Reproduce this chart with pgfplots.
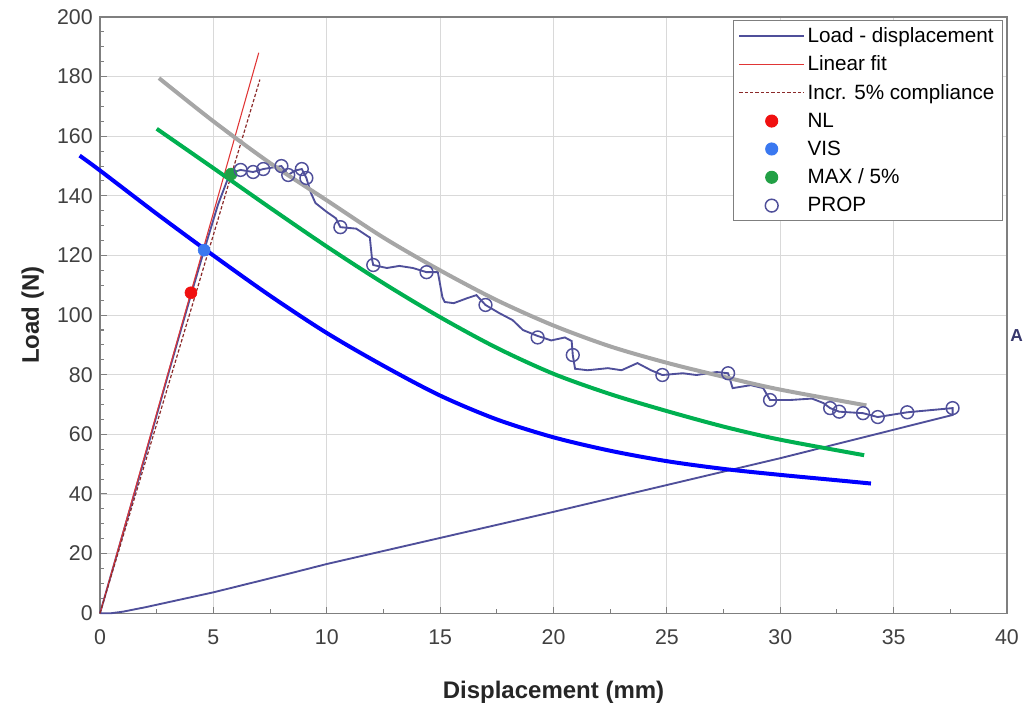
\documentclass[border=0pt]{standalone}
\usepackage{fontspec}
\setmainfont{Liberation Sans}
\usepackage{pgfplots}
\pgfplotsset{compat=1.18}

\definecolor{ldcol}{HTML}{4F4F9A}
\definecolor{fitred}{HTML}{E03535}
\definecolor{cmpred}{HTML}{8B2A2A}
\definecolor{nlred}{HTML}{F01010}
\definecolor{visblue}{HTML}{3A78F0}
\definecolor{maxgreen}{HTML}{22A045}
\definecolor{curveblue}{HTML}{0000FF}
\definecolor{curvegreen}{HTML}{00B050}
\definecolor{curvegray}{HTML}{A6A6A6}
\definecolor{axgray}{HTML}{7F7F7F}
\definecolor{ticktext}{HTML}{404040}

\pgfplotsset{
  dotlegend/.style={legend image code/.code={\draw[##1] plot coordinates {(0.85cm,0cm)};}},
}

\begin{document}
\begin{tikzpicture}
\begin{axis}[
  name=ax,
  scale only axis,
  width=680pt, height=447pt,
  xmin=0, xmax=40, ymin=0, ymax=200,
  xtick={0,5,...,40}, ytick={0,20,...,200},
  minor x tick num=1, minor y tick num=3,
  tick pos=left, tick align=inside,
  major tick length=5pt, minor tick length=3pt,
  every tick/.style={axgray, line width=0.8pt},
  axis line style={axgray, line width=1pt},
  grid=major,
  grid style={gray!30, line width=0.6pt},
  ticklabel style={font=\fontsize{16}{18}\selectfont, text=ticktext},
  xticklabel style={yshift=-9pt},
  yticklabel style={xshift=-2pt},
  /pgf/number format/assume math mode=true,
  xlabel={\textbf{Displacement (mm)}},
  ylabel={\textbf{Load (N)}},
  label style={font=\fontsize{18}{20}\selectfont, text=black!85},
  xlabel style={yshift=-20pt},
  ylabel style={yshift=3pt},
  clip=false,
  legend cell align=left,
  legend style={at={(0.9956,0.995)}, anchor=north east,
    font=\fontsize{15.5}{17}\selectfont, draw=axgray, line width=0.8pt,
    row sep=4.7pt, inner xsep=4pt, inner ysep=3pt},
  legend image code/.code={\draw[#1] (0cm,0cm) -- (1.7cm,0cm);},
]
% load - displacement trace
\addplot[ldcol, line width=1.4pt] coordinates {
  (0,0) (1,26.5) (2,53) (3,80) (4,106.5) (4.6,122) (5.2,137) (5.6,145)
  (5.9,148) (6.2,148.7) (6.75,148) (7.2,149) (7.6,149.5) (8.0,150)
  (8.3,147) (8.6,148.5) (8.9,149) (9.1,146) (9.3,141) (9.5,137.6)
  (10,134.6) (10.4,132.5) (10.6,129.5) (11.3,129) (11.9,126) (12.0,118.5)
  (12.05,116.8) (12.65,115.8) (13.2,116.5) (13.8,115.8) (14.4,114.4)
  (14.9,114.4) (15.1,106) (15.2,104.4) (15.6,104) (16.2,105.7) (16.6,106.7)
  (17.0,103.4) (17.6,100.7) (18.2,98.3) (18.65,95) (19.3,93) (19.9,91.5)
  (20.5,92.5) (20.8,91.3) (20.85,86.6) (20.95,82) (21.5,81.5) (22.4,82.2)
  (23,81.5) (23.7,83.9) (24.3,81.5) (24.8,79.9) (25.7,80.5) (26.3,79.9)
  (27.2,80.9) (27.7,80.5) (27.9,75.5) (28.7,76.5) (29.25,75.5) (29.55,71.5)
  (30.4,71.5) (31.4,72) (31.9,70.5) (32.2,68.8) (32.6,67.6) (33.65,67.1)
  (34.3,65.8) (35.6,67.4) (37.6,68.8) (37.6,66.5) (30,52) (20,34) (10,16.5)
  (8.4,13.4) (5,7) (2,2) (1,0.5) (0.5,0) (0,0)
};
\addlegendentry{Load - displacement}
% linear fit
\addplot[fitred, line width=0.8pt] coordinates {(0,0) (7.0,188)};
\addlegendentry{Linear fit}
% increased compliance
\addplot[cmpred, line width=0.9pt, dash pattern=on 2.5pt off 1.5pt] coordinates {(0,0) (7.05,179)};
\addlegendentry{Incr. 5\% compliance}
% points
\addplot[only marks, mark=*, mark size=4.5pt, nlred, mark options={draw=nlred, fill=nlred}, dotlegend] coordinates {(4.01,107.5)};
\addlegendentry{NL}
\addplot[only marks, mark=*, mark size=4.5pt, visblue, mark options={draw=visblue, fill=visblue}, dotlegend] coordinates {(4.59,121.8)};
\addlegendentry{VIS}
\addplot[only marks, mark=*, mark size=4.5pt, maxgreen, mark options={draw=maxgreen, fill=maxgreen}, dotlegend] coordinates {(5.78,147.3)};
\addlegendentry{MAX / 5\%}
\addplot[only marks, mark=o, mark size=4.8pt, ldcol, mark options={line width=1.1pt, fill=white}, dotlegend] coordinates {
  (6.2,148.7) (6.75,148) (7.2,149) (8.0,150) (8.3,147) (8.9,149) (9.1,146)
  (10.6,129.5) (12.05,116.8) (14.4,114.4) (17.0,103.4) (19.3,92.5)
  (20.85,86.6) (24.8,79.9) (27.7,80.5) (29.55,71.5) (32.2,68.8)
  (32.6,67.6) (33.65,67.1) (34.3,65.8) (35.6,67.4) (37.6,68.8)
};
\addlegendentry{PROP}
% overlay curves
\addplot[curveblue, line width=3pt, smooth, forget plot] coordinates {
  (-0.9,153.5) (0,148.5) (2.5,134) (5,120) (7.5,106.5) (10,94) (12.5,83)
  (15,73) (17.5,65) (20,59) (22.5,54.5) (25,51) (27.5,48.4) (30,46.4)
  (32.5,44.6) (34,43.5)
};
\addplot[curvegreen, line width=3pt, smooth, forget plot] coordinates {
  (2.5,162.5) (5,149.3) (7.5,136) (10,123) (12.5,110.7) (15,99.3)
  (17.5,89) (20,80.3) (22.5,73.5) (25,67.8) (27.5,62.6) (30,58.2) (33.7,53)
};
\addplot[curvegray, line width=3pt, smooth, forget plot] coordinates {
  (2.6,179.5) (5,165) (7.5,151) (10,138.5) (12.5,126) (15,115) (17.5,105)
  (20,96.5) (22.5,89.5) (25,84) (27.5,79.3) (30,75) (33.8,69.7)
};
\node[anchor=west, inner sep=0pt, text=ldcol!70!black, font=\fontsize{13}{15}\selectfont\bfseries]
  at (rel axis cs:1.0033,0.465) {A};
\end{axis}
\pgfresetboundingbox
\useasboundingbox ([shift={(-75pt,-70pt)}]ax.south west) rectangle ([shift={(13.5pt,12.75pt)}]ax.north east);
\end{tikzpicture}
\end{document}
